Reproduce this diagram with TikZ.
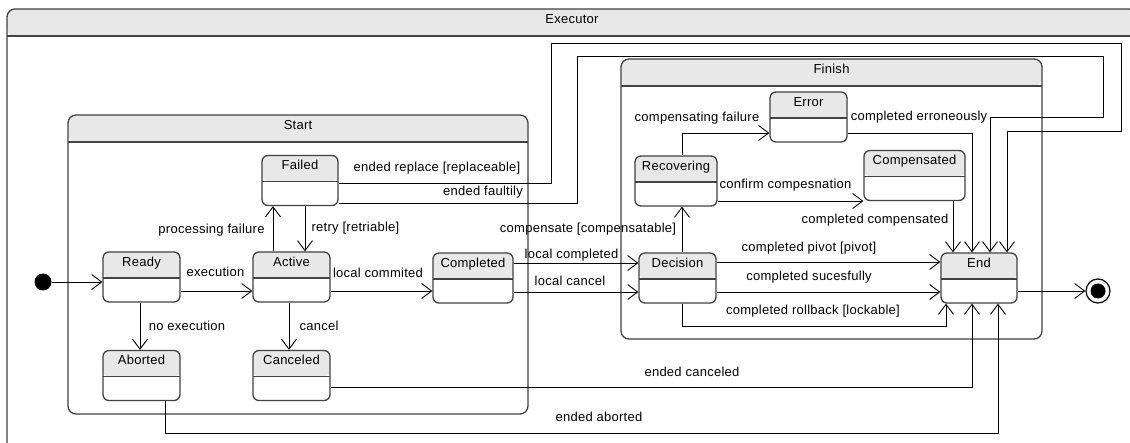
\documentclass[tikz,border=0pt]{standalone}
\usepackage{fontspec}
\setmainfont{Liberation Sans}[LetterSpace=2.0]
\usetikzlibrary{arrows.meta}
\definecolor{headgray}{RGB}{232,232,232}
\definecolor{edgegray}{RGB}{66,66,66}

\begin{document}
\begin{tikzpicture}[x=1pt, y=-1pt,
    font=\fontsize{13}{15}\selectfont,
    composite/.style ={draw=edgegray, line width=1.3pt, rounded corners=8pt, fill=white,
      inner xsep=2pt, inner ysep=5pt, text height=9.5pt,
      path picture={
        \fill[headgray] (path picture bounding box.north west) rectangle ([yshift=-27pt]path picture bounding box.north east);
        \draw[edgegray, line width=1.2pt] ([yshift=-27pt]path picture bounding box.north west) -- ([yshift=-27pt]path picture bounding box.north east);}},
    state/.style ={draw=edgegray, line width=1.3pt, rounded corners=6pt, fill=white,
      minimum width=77pt, inner xsep=2pt, inner ysep=5pt, text height=9.5pt, text depth=30.5pt,
      path picture={
        \fill[headgray] (path picture bounding box.north west) rectangle ([yshift=-26pt]path picture bounding box.north east);
        \draw[edgegray, line width=1.2pt] ([yshift=-26pt]path picture bounding box.north west) -- ([yshift=-26pt]path picture bounding box.north east);}},
    initial/.style ={circle, fill=black, minimum size=17pt, inner sep=0pt},
    finalst/.style ={circle, draw=black, line width=1.2pt, fill=white, minimum size=24pt, inner sep=0pt,
      path picture={\fill[black] (path picture bounding box.center) circle (7.5pt);}},
    lbl/.style ={inner sep=0pt, text height=9.5pt, text depth=2.5pt},
    trans/.style ={draw=black, line width=0.9pt, -{Straight Barb[length=10pt,width=15pt,line width=0.9pt]}}]
   \useasboundingbox (0,0) rectangle (1130,443);
   \clip (0,0) rectangle (1130,443);

   % containers
   \node[composite, minimum width=1130pt, text depth=441.5pt] (executor) at (572,239.5) {Executor};
   \node[composite, minimum width=460pt, text depth=279.5pt] (start) at (298,264.5) {Start};
   \node[composite, minimum width=421pt, text depth=260.5pt] (finish) at (831.5,199) {Finish};

   % states
   \node[initial] (init) at (43,282) {};
   \node[state] (ready) at (141.5,277) {Ready};
   \node[state] (active) at (291.5,277) {Active};
   \node[state, minimum width=76pt] (failed) at (300,180.5) {Failed};
   \node[state] (aborted) at (141.5,375.5) {Aborted};
   \node[state] (canceled) at (291.5,375.5) {Canceled};
   \node[state, minimum width=80pt] (completed) at (473,278) {Completed};
   \node[state] (decision) at (677.5,278) {Decision};
   \node[state, minimum width=82pt] (recovering) at (676,181) {Recovering};
   \node[state] (error) at (808.5,117) {Error};
   \node[state, minimum width=101pt] (compensated) at (914.5,175.5) {Compensated};
   \node[state, minimum width=76pt] (endst) at (979,278) {End};
   \node[finalst] (final) at (1098,291) {};

   % bends and levels
   \coordinate (yready) at (0,282);
   \coordinate (yexec) at (0,291);
   \coordinate (ylcomp) at (0,263);
   \coordinate (ylcanc) at (0,292);
   \coordinate (ypivot) at (0,262);
   \coordinate (yfinal) at (0,291);
   \coordinate (yconf) at (0,201);
   \coordinate (xproc) at (273,0);
   \coordinate (xretry) at (305,0);
   \coordinate (xnoex) at (140,0);
   \coordinate (xcanc) at (289,0);
   \coordinate (xcmp) at (953,0);
   \coordinate (rep0) at (551,183);
   \coordinate (rep1) at (551,43);
   \coordinate (rep2) at (1121,131);
   \coordinate (rep3) at (1007,131);
   \coordinate (flt0) at (577,203);
   \coordinate (flt1) at (577,56);
   \coordinate (flt2) at (1103,117);
   \coordinate (flt3) at (990,117);
   \coordinate (cf0) at (682,133);
   \coordinate (err0) at (972,133);
   \coordinate (rb0) at (946,326);
   \coordinate (cnl0) at (972,387);
   \coordinate (abt0) at (165,433);
   \coordinate (abt1) at (998,433);

   % transitions
   \draw[trans] (init) -- (ready.west |- yready);
   \draw[trans] (ready.east |- yexec) -- (active.west |- yexec);
   \draw[trans] (ready.south -| xnoex) -- (aborted.north -| xnoex);
   \draw[trans] (active.south -| xcanc) -- (canceled.north -| xcanc);
   \draw[trans] (active.north -| xproc) -- (failed.south -| xproc);
   \draw[trans] (failed.south -| xretry) -- (active.north -| xretry);
   \draw[trans] (active.east |- yexec) -- (completed.west |- yexec);
   \draw[trans] (completed.east |- ylcomp) -- (decision.west |- ylcomp);
   \draw[trans] (completed.east |- ylcanc) -- (decision.west |- ylcanc);
   \draw[trans] (decision.north -| cf0) -- (recovering.south -| cf0);
   \draw[trans] (recovering.north -| cf0) |- (error.west |- cf0);
   \draw[trans] (recovering.east |- yconf) -- (compensated.west |- yconf);
   \draw[trans] (error.east |- err0) -| (endst.north -| err0);
   \draw[trans] (compensated.south -| xcmp) -- (endst.north -| xcmp);
   \draw[trans] (decision.east |- ypivot) -- (endst.west |- ypivot);
   \draw[trans] (decision.east |- ylcanc) -- (endst.west |- ylcanc);
   \draw[trans] (decision.south -| cf0) |- (rb0) -- (rb0 |- endst.south);
   \draw[trans] (failed.east |- rep0) -- (rep0) -- (rep1) -| (rep2) -- (rep3) -- (rep3 |- endst.north);
   \draw[trans] (failed.east |- flt0) -- (flt0) -- (flt1) -| (flt2) -- (flt3) -- (flt3 |- endst.north);
   \draw[trans] (canceled.east |- cnl0) -| (endst.south -| cnl0);
   \draw[trans] (aborted.south -| abt0) -- (abt0) -- (abt1) -- (abt1 |- endst.south);
   \draw[trans] (endst.east |- yfinal) -- (final);

   % transition labels
   \node[lbl] (lexec) at (215.5,273) {execution};
   \node[lbl] (lnoex) at (187,327) {no execution};
   \node[lbl] (lcanc) at (319,327) {cancel};
   \node[lbl] (lproc) at (211.5,230) {processing failure};
   \node[lbl] (lretry) at (355.5,228) {retry [retriable]};
   \node[lbl] (lcommit) at (378,274) {local commited};
   \node[lbl] (llcomp) at (571.5,255) {local completed};
   \node[lbl] (llcanc) at (570,282) {local cancel};
   \node[lbl] (lcompens) at (588,229) {compensate [compensatable]};
   \node[lbl] (lcfail) at (697,118) {compensating failure};
   \node[lbl] (lconf) at (785.5,185) {confirm compesnation};
   \node[lbl] (lerr) at (919,117) {completed erroneously};
   \node[lbl] (lcmpd) at (875,220) {completed compensated};
   \node[lbl] (lpivot) at (809,248) {completed pivot [pivot]};
   \node[lbl] (lsucc) at (809,277) {completed sucesfully};
   \node[lbl] (lroll) at (813,311) {completed rollback [lockable]};
   \node[lbl] (lrepl) at (437,168) {ended replace [replaceable]};
   \node[lbl] (lfault) at (483,192) {ended faultily};
   \node[lbl] (lendc) at (692,373) {ended canceled};
   \node[lbl] (lenda) at (599,418) {ended aborted};
 \end{tikzpicture}
\end{document}
